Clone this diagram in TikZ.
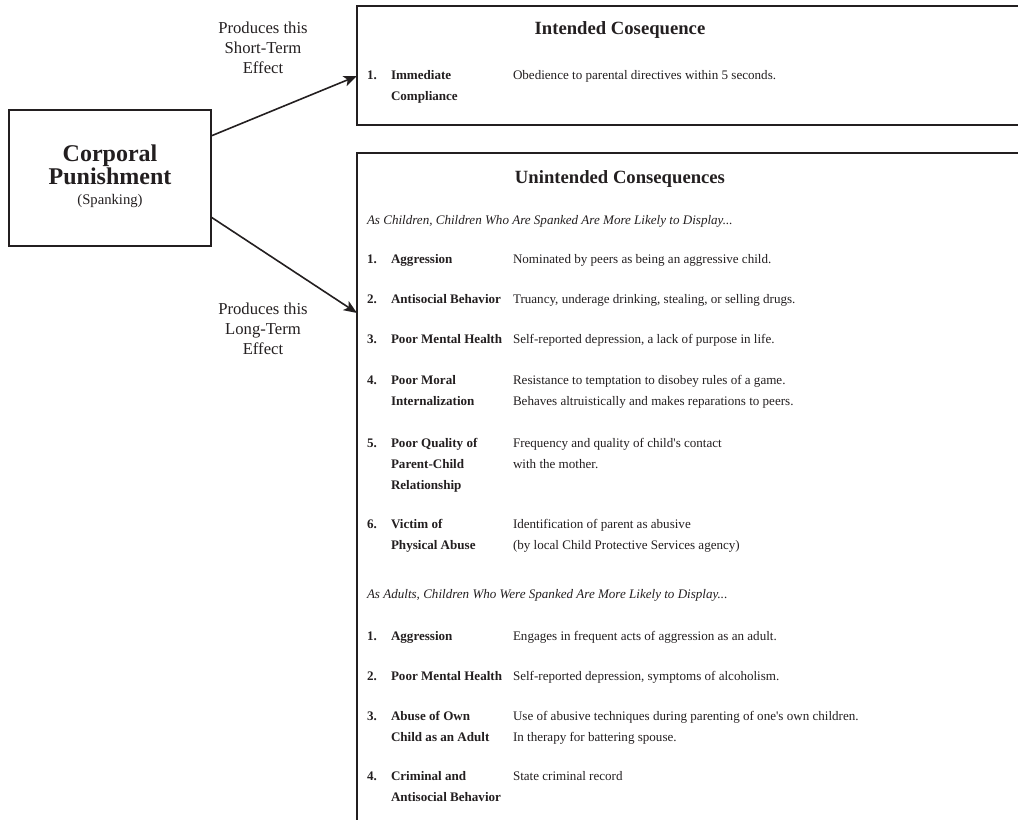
\documentclass[tikz,border=0pt]{standalone}
\usepackage{fontspec}
\setmainfont{Liberation Serif}
\usetikzlibrary{arrows.meta,positioning}
\definecolor{ink}{RGB}{35,31,32}

\tikzset{
  every node/.style={text=ink, inner sep=0pt, outer sep=0pt},
  conbox/.style={draw=ink, line width=1.5pt},
  effect/.style={draw=ink, line width=1.2pt, -{Stealth[length=10pt,width=8pt,inset=2.5pt]}},
  tag/.style={align=center, anchor=base, font=\fontsize{12.5}{15}\selectfont},
  bigtitle/.style={anchor=base, font=\fontsize{18}{20}\selectfont\bfseries},
  heading/.style={anchor=base, font=\fontsize{14}{16}\selectfont\bfseries},
  note/.style={anchor=base west, font=\fontsize{9.8}{12}\selectfont\itshape},
  num/.style={anchor=base west, font=\fontsize{9.8}{15.75}\selectfont\bfseries},
  effname/.style={anchor=base west, align=left, font=\fontsize{9.8}{15.75}\selectfont\bfseries},
  desc/.style={anchor=base west, align=left, font=\fontsize{9.8}{15.75}\selectfont},
}

\begin{document}
\begin{tikzpicture}[x=0.75pt,y=-0.75pt]
  \useasboundingbox (0,0) rectangle (1018,820);
  \clip (0,0) rectangle (1018,820);

  \node[conbox, minimum width=151.5pt, minimum height=102pt] (punish) at (110,178) {};
  \node[bigtitle] (corporal) at (110,162) {Corporal};
  \node[bigtitle] (punishment) at (110,185) {Punishment};
  \node[tag, font=\fontsize{11}{13}\selectfont] (spanking) at (110,205) {(Spanking)};

  \node[conbox, minimum width=512.25pt, minimum height=89.25pt] (intended) at (698.5,65.5) {};
  \node[conbox, minimum width=512.25pt, minimum height=560.25pt] (unintended) at (698.5,526.5) {};

  \node[heading] (inttitle) at (620,35) {Intended Cosequence};
  \node[num] (i1) at (367,80) {1.};
  \node[effname] (i1name) at (391,101) {Immediate\\Compliance};
  \node[desc] (i1desc) at (513,80) {Obedience to parental directives within 5 seconds.};

  \node[heading] (unititle) at (620,184) {Unintended Consequences};
  \node[note] (kids) at (367,225) {As Children, Children Who Are Spanked Are More Likely to Display...};

  \node[num] (c1) at (367,263) {1.};
  \node[effname] (c1name) at (391,263) {Aggression};
  \node[desc] (c1desc) at (513,263) {Nominated by peers as being an aggressive child.};
  \node[num] (c2) at (367,303) {2.};
  \node[effname] (c2name) at (391,303) {Antisocial Behavior};
  \node[desc] (c2desc) at (513,303) {Truancy, underage drinking, stealing, or selling drugs.};
  \node[num] (c3) at (367,343) {3.};
  \node[effname] (c3name) at (391,343) {Poor Mental Health};
  \node[desc] (c3desc) at (513,343) {Self-reported depression, a lack of purpose in life.};
  \node[num] (c4) at (367,384) {4.};
  \node[effname] (c4name) at (391,405) {Poor Moral\\Internalization};
  \node[desc] (c4desc) at (513,405) {Resistance to temptation to disobey rules of a game.\\Behaves altruistically and makes reparations to peers.};
  \node[num] (c5) at (367,447) {5.};
  \node[effname] (c5name) at (391,489) {Poor Quality of\\Parent-Child\\Relationship};
  \node[desc] (c5desc) at (513,468) {Frequency and quality of child\textquotesingle s contact\\with the mother.};
  \node[num] (c6) at (367,528) {6.};
  \node[effname] (c6name) at (391,549) {Victim of\\Physical Abuse};
  \node[desc] (c6desc) at (513,549) {Identification of parent as abusive\\(by local Child Protective Services agency)};

  \node[note] (adults) at (367,598) {As Adults, Children Who Were Spanked Are More Likely to Display...};

  \node[num] (a1) at (367,640) {1.};
  \node[effname] (a1name) at (391,640) {Aggression};
  \node[desc] (a1desc) at (513,640) {Engages in frequent acts of aggression as an adult.};
  \node[num] (a2) at (367,680) {2.};
  \node[effname] (a2name) at (391,680) {Poor Mental Health};
  \node[desc] (a2desc) at (513,680) {Self-reported depression, symptoms of alcoholism.};
  \node[num] (a3) at (367,720) {3.};
  \node[effname] (a3name) at (391,741) {Abuse of Own\\Child as an Adult};
  \node[desc] (a3desc) at (513,741) {Use of abusive techniques during parenting of one\textquotesingle s own children.\\In therapy for battering spouse.};
  \node[num] (a4) at (367,780) {4.};
  \node[effname] (a4name) at (391,801) {Criminal and\\Antisocial Behavior};
  \node[desc] (a4desc) at (513,780) {State criminal record};

  \draw[effect] ([yshift=31.5pt]punish.east) -- (intended.west |- 0,76);
  \draw[effect] ([yshift=-29.25pt]punish.east) -- (unintended.west |- 0,313);
  \node[tag] (shortlbl) at (263,74) {Produces this\\Short-Term\\Effect};
  \node[tag] (longlbl) at (263,354) {Produces this\\Long-Term\\Effect};
\end{tikzpicture}
\end{document}
